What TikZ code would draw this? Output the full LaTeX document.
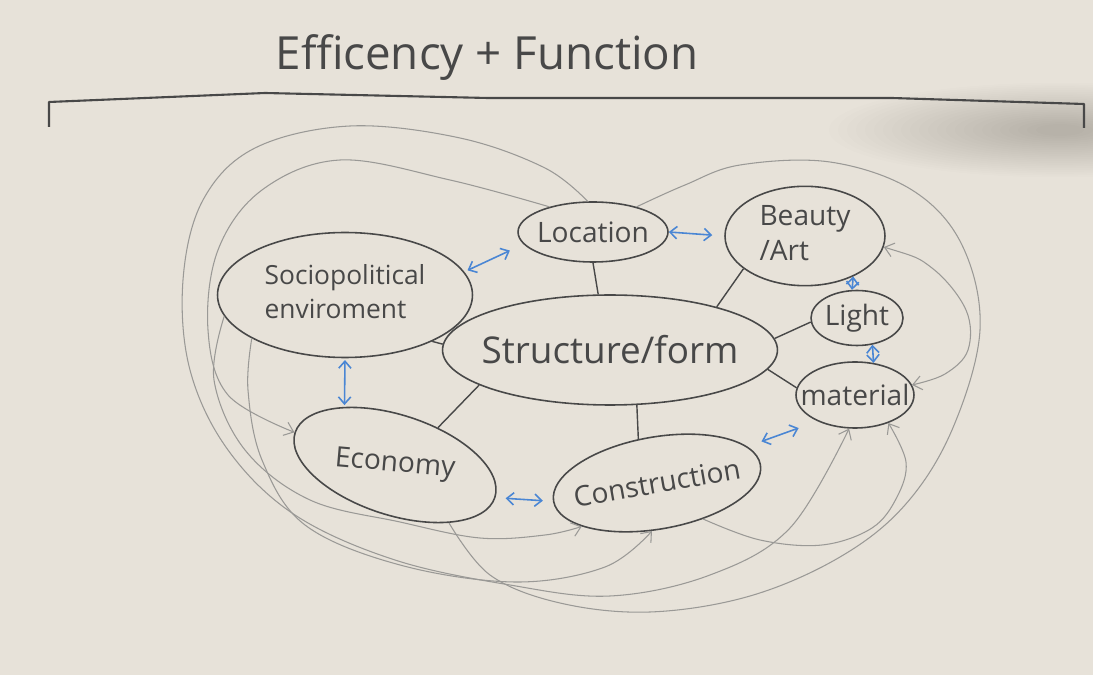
\documentclass[tikz,border=0pt]{standalone}
\usepackage{graphicx}
\usepackage{fontspec}
\setmainfont{Open Sans}
\usetikzlibrary{shapes.geometric,arrows.meta}
\definecolor{paper}{HTML}{E7E2D9}
\definecolor{ink}{HTML}{484848}
\definecolor{pencil}{HTML}{9A9996}
\definecolor{bluepen}{HTML}{4A86D4}
\newcommand\zw[1]{\makebox[0pt]{#1}}
\begin{document}
\begin{tikzpicture}[x=0.02cm,y=-0.02cm,
  bub/.style={ellipse,draw=ink,line width=0.9pt,inner sep=0pt,text=ink,font=\fontsize{16}{20}\selectfont},
  tie/.style={draw=ink,line width=0.8pt},
  link/.style={draw=bluepen,line width=0.9pt,{Straight Barb[length=4pt,width=7pt]}-{Straight Barb[length=4pt,width=7pt]}},
  loopline/.style={draw=pencil,line width=0.6pt},
  tipend/.style={-{Straight Barb[length=5pt,width=8pt]}},
  tipboth/.style={{Straight Barb[length=5pt,width=8pt]}-{Straight Barb[length=5pt,width=8pt]}},
  smoothline/.style={smooth,tension=0.6}]
\useasboundingbox (0,0) rectangle (1093,675);
\fill[paper] (0,0) rectangle (1093,675);
% soft shadow smear at top right
\foreach \r in {1,...,24}{
  \fill[black!70,opacity=0.012] (1060,130) ellipse [x radius={15+\r*9}, y radius={4+\r*1.8}];
}

% title and bracket
\node[text=ink,font=\fontsize{26}{30}\selectfont] (title) at (487,58) {Efficency + Function};
\draw[ink,line width=1.2pt,line join=round] (49,127) -- (49,102) -- (265,93) -- (488,98) -- (892,98) -- (1084,104) -- (1084,128);

% nodes
\node[bub,minimum width=3cm,minimum height=1.2cm] (loc) at (593,232) {\zw{Location}};
\node[bub,minimum width=3.2cm,minimum height=1.6cm] (beauty) at (805,236) {\zw{\begin{tabular}{@{}l@{}}Beauty\\/Art\end{tabular}}};
\node[bub,minimum width=1.84cm,minimum height=1.1cm] (light) at (857,318) {\zw{Light}};
\node[bub,minimum width=2.36cm,minimum height=1.32cm] (mat) at (855,395) {\zw{material}};
\node[bub,minimum width=6.7cm,minimum height=2.2cm,font=\fontsize{21}{25}\selectfont] (struct) at (610,350) {\zw{Structure/form}};
\node[bub,minimum width=5.1cm,minimum height=2.5cm,font=\fontsize{15}{19}\selectfont] (socio) at (345,295) {\zw{\begin{tabular}{@{}l@{}}Sociopolitical\\enviroment\end{tabular}}};
\node[bub,minimum width=4.2cm,minimum height=2cm,rotate=-18] (econ) at (395,465) {\zw{\rotatebox{13}{Economy}}};
\node[bub,minimum width=4.2cm,minimum height=1.84cm,rotate=10] (cons) at (657,483) {\zw{Construction}};

% black ties
\draw[tie] (socio.-28) -- (struct.178);
\draw[tie] (loc.south) -- (struct.102);
\draw[tie] (struct.-64) -- (cons.103);
\draw[tie] (struct.195) -- (econ.59);
\draw[tie] (struct.22) -- (beauty.208);
\draw[tie] (struct.4) -- (light.185);
\draw[tie] (struct.-7) -- (mat.173);

% blue double arrows
\draw[link,shorten <=2pt,shorten >=0.3cm] (socio.11) -- (loc.190);
\draw[link,shorten <=1pt,shorten >=1pt] (socio.-90) -- (econ.149);
\draw[link,shorten <=0pt,shorten >=0.24cm] (loc.east) -- (beauty.west);
\draw[link] (beauty.-40) -- (light.100);
\draw[link] (light.-60) -- (mat.60);
\draw[link,shorten <=0.2cm,shorten >=0.2cm] (econ.east) -- (cons.west);
\draw[link,shorten <=0.3cm,shorten >=0.4cm] (cons.12) -- (mat.215);

% pencil loops
\draw[loopline,tipend] plot[smoothline] coordinates {(loc.100) (545,168) (460,138) (350,126) (255,148) (203,200) (183,280) (190,370) (228,450) (295,515) (395,560) (510,585) (610,596) (710,575) (790,528) (mat.-100)};
\draw[loopline,tipend] plot[smoothline] coordinates {(loc.150) (450,180) (340,160) (262,190) (218,250) (208,330) (228,395) (econ.west)};
\draw[loopline,tipend] plot[smoothline] coordinates {(socio.205) (248,390) (262,460) (305,525) (400,565) (515,582) (605,567) (cons.-106)};
\draw[loopline,tipend] plot[smoothline] coordinates {(socio.190) (214,380) (245,450) (310,500) (400,522) (480,538) (545,535) (cons.-160)};
\draw[loopline] plot[smoothline] coordinates {(econ.-29) (490,575) (560,603) (650,612) (750,596) (840,557) (905,505) (952,430) (980,330) (962,245) (912,190) (830,162) (740,165) (685,185) (loc.30)};
\draw[loopline,tipboth] plot[smoothline] coordinates {(beauty.-8) (932,268) (966,310) (968,350) (945,374) (mat.10)};
\draw[loopline,tipend] plot[smoothline] coordinates {(cons.-48) (760,540) (822,545) (872,528) (897,497) (906,462) (mat.-40)};
\end{tikzpicture}
\end{document}
